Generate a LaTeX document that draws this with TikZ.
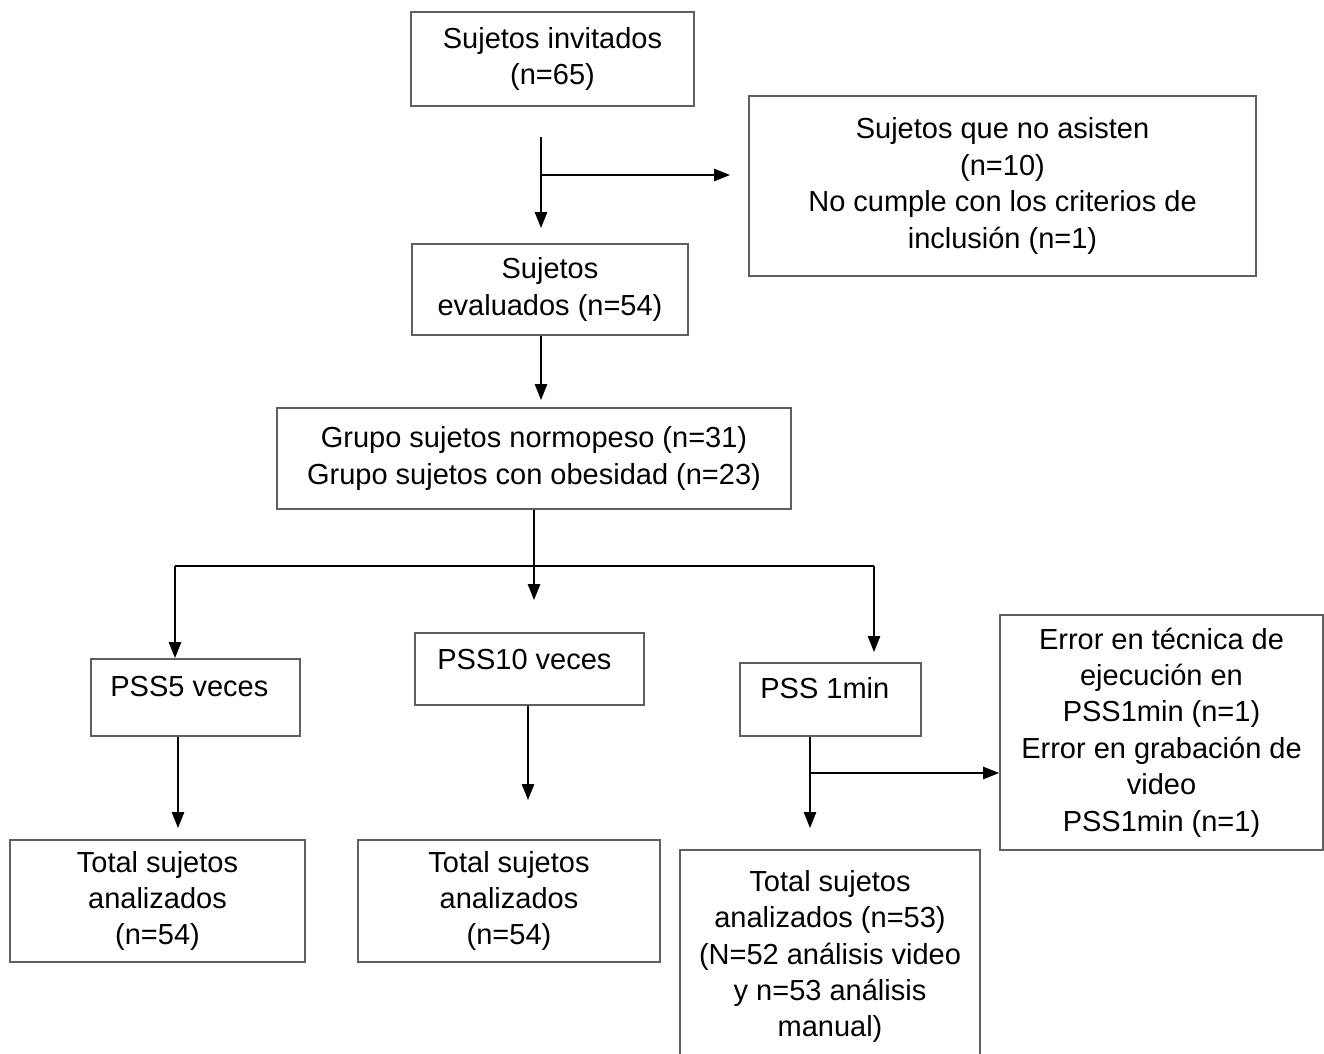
\documentclass[tikz,border=0pt]{standalone}
\usepackage{fontspec}
\setmainfont{Liberation Sans}
\usetikzlibrary{arrows.meta}
\definecolor{cajagris}{RGB}{95,95,95}

\begin{document}
\begin{tikzpicture}[
    caja/.style={draw=cajagris, line width=1.1pt, align=center, inner sep=0pt,
        font=\fontsize{16.5}{20.7}\selectfont},
    texto/.style={inner sep=0pt, font=\fontsize{16.5}{20.7}\selectfont},
    flecha/.style={-{Triangle[length=9pt,width=7pt]}, line width=0.8pt}
  ]
    \clip (0,0) rectangle (26.48,21.06);

    % cajas superiores
    \node[caja, minimum width=5.66cm, minimum height=1.88cm] (invitados) at (11.05,19.88) {Sujetos invitados\\(n=65)};
    \node[caja, minimum width=10.14cm, minimum height=3.6cm] (noasisten) at (20.05,17.34) {Sujetos que no asisten\\(n=10)\\No cumple con los criterios de\\inclusión (n=1)};
    \node[caja, minimum width=5.52cm, minimum height=1.82cm] (evaluados) at (11.0,15.27) {Sujetos\\evaluados (n=54)};
    \node[caja, minimum width=10.28cm, minimum height=2.02cm] (grupos) at (10.68,11.89) {Grupo sujetos normopeso (n=31)\\Grupo sujetos con obesidad (n=23)};

    % pruebas
    \node[caja, minimum width=4.18cm, minimum height=1.54cm] (pss5) at (3.91,7.11) {};
    \node[texto, anchor=west] (pss5txt) at (2.2,7.32) {PSS5 veces};
    \node[caja, minimum width=4.58cm, minimum height=1.44cm] (pss10) at (10.59,7.68) {};
    \node[texto, anchor=west] (pss10txt) at (8.74,7.86) {PSS10 veces};
    \node[caja, minimum width=3.62cm, minimum height=1.46cm] (pss1) at (16.61,7.07) {};
    \node[texto, anchor=west] (pss1txt) at (15.2,7.3) {PSS 1min};
    \node[caja, minimum width=6.46cm, minimum height=4.7cm] (errores) at (23.23,6.41) {Error en técnica de\\ejecución en\\PSS1min (n=1)\\Error en grabación de\\video\\PSS1min (n=1)};

    % totales
    \node[caja, minimum width=5.9cm, minimum height=2.44cm] (total5) at (3.15,3.04) {Total sujetos\\analizados\\(n=54)};
    \node[caja, minimum width=6.04cm, minimum height=2.44cm] (total10) at (10.18,3.04) {Total sujetos\\analizados\\(n=54)};
    \node[caja, minimum width=6.0cm, minimum height=4.26cm] (total1) at (16.6,1.93) {Total sujetos\\analizados (n=53)\\(N=52 análisis video\\y n=53 análisis\\manual)};

    % flechas
    \coordinate (a1) at (10.82,18.32);
    \coordinate (a2) at (10.82,16.5);
    \coordinate (a3) at (10.82,17.56);
    \coordinate (a4) at (14.6,17.56);
    \draw[flecha] (a1) -- (a2);
    \draw[flecha] (a3) -- (a4);

    \coordinate (b1) at (10.82,13.06);
    \draw[flecha] (b1 |- evaluados.south) -- (b1);

    \coordinate (c1) at (10.68,9.06);
    \coordinate (izq) at (3.5,9.74);
    \coordinate (der) at (17.48,9.74);
    \coordinate (c2) at (17.48,8.02);
    \draw[flecha] (grupos.south) -- (c1);
    \draw[line width=0.8pt] (izq) -- (der);
    \draw[flecha] (izq) -- (izq |- pss5.north);
    \draw[flecha] (der) -- (c2);

    \coordinate (d1) at (3.56,4.5);
    \coordinate (d2) at (10.56,5.06);
    \coordinate (d3) at (16.2,4.5);
    \coordinate (d4) at (16.2,5.6);
    \draw[flecha] (d1 |- pss5.south) -- (d1);
    \draw[flecha] (d2 |- pss10.south) -- (d2);
    \draw[flecha] (d3 |- pss1.south) -- (d3);
    \draw[flecha] (d4) -- (d4 -| errores.west);
\end{tikzpicture}
\end{document}
